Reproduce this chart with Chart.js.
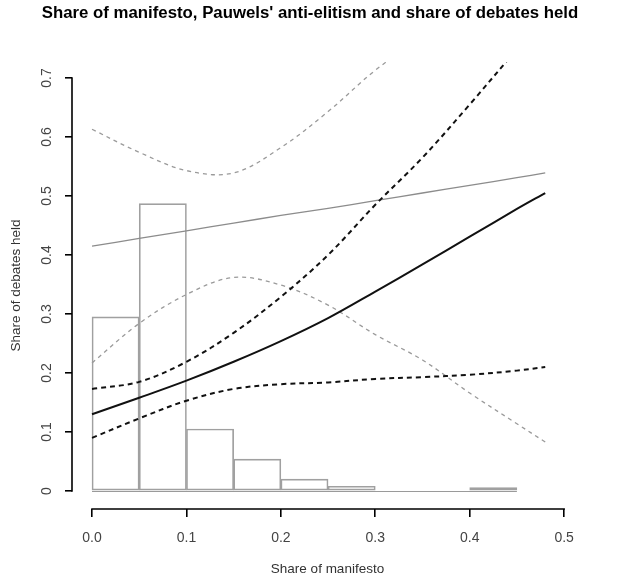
<!DOCTYPE html>
<html><head><meta charset="utf-8">
<script src="https://cdn.jsdelivr.net/npm/chart.js@4/dist/chart.umd.min.js"></script>
<style>html,body{margin:0;padding:0;background:#fff}</style>
</head><body>
<canvas id="c" width="620" height="585"></canvas>
<script>
const titleText = "Share of manifesto, Pauwels' anti-elitism and share of debates held";
const xTitle = "Share of manifesto";
const yTitle = "Share of debates held";
const xTicks = [0, 0.1, 0.2, 0.3, 0.4, 0.5];
const xTickLabels = ["0.0", "0.1", "0.2", "0.3", "0.4", "0.5"];
const yTicks = [0, 0.1, 0.2, 0.3, 0.4, 0.5, 0.6, 0.7];
const yTickLabels = ["0", "0.1", "0.2", "0.3", "0.4", "0.5", "0.6", "0.7"];

// histogram of share of manifesto
const histEdges = [0, 0.05, 0.1, 0.15, 0.2, 0.25, 0.3, 0.35, 0.4, 0.45];
const histValues = [0.295, 0.487, 0.105, 0.054, 0.020, 0.008, 0, 0, 0.006];

// fitted curves
const curveX = [0, 0.05, 0.1, 0.15, 0.2, 0.25, 0.3, 0.35, 0.4, 0.45, 0.48];
const blackFit   = [0.130, 0.158, 0.187, 0.219, 0.254, 0.293, 0.338, 0.384, 0.431, 0.478, 0.505];
const blackUpper = [0.173, 0.185, 0.219, 0.268, 0.329, 0.400, 0.485, 0.565, 0.655, 0.749, null];
const blackLower = [0.090, 0.123, 0.153, 0.173, 0.181, 0.184, 0.190, 0.193, 0.197, 0.204, 0.210];
const grayFit    = [0.415, 0.428, 0.441, 0.454, 0.467, 0.479, 0.492, 0.505, 0.518, 0.531, 0.539];
const grayUpper  = [0.613, 0.574, 0.543, 0.539, 0.582, 0.643, 0.713, 0.770, null, null, null];
const grayLower  = [0.217, 0.284, 0.333, 0.362, 0.349, 0.315, 0.265, 0.222, 0.166, 0.114, 0.083];

const FONT = "'Liberation Sans', Arial, sans-serif";
const pts = arr => curveX.map((x, i) => ({x: x, y: arr[i]}));
const histPts = histValues.map((v, i) => ({x: (histEdges[i] + histEdges[i + 1]) / 2, y: v}));

function lineDs(arr, color, width, dash) {
  return {
    type: 'line', data: pts(arr), borderColor: color, borderWidth: width,
    borderDash: dash, pointRadius: 0, fill: false, tension: 0.35, spanGaps: false
  };
}

const axisPlugin = {
  id: 'axisPlugin',
  beforeDatasetsDraw(chart) {
    const {ctx, scales: {x, y}} = chart;
    ctx.save();
    ctx.strokeStyle = '#9a9a9a';
    ctx.lineWidth = 1;
    const y0 = Math.round(y.getPixelForValue(0)) + 0.5;
    ctx.beginPath();
    ctx.moveTo(x.getPixelForValue(histEdges[0]), y0);
    ctx.lineTo(x.getPixelForValue(histEdges[histEdges.length - 1]), y0);
    ctx.stroke();
    ctx.restore();
  },
  afterDraw(chart) {
    const {ctx, chartArea, scales: {x, y}} = chart;
    ctx.save();
    ctx.strokeStyle = '#000';
    ctx.lineWidth = 1.6;
    ctx.beginPath();
    ctx.moveTo(x.getPixelForValue(xTicks[0]) - 0.8, chartArea.bottom);
    ctx.lineTo(x.getPixelForValue(xTicks[xTicks.length - 1]) + 0.8, chartArea.bottom);
    ctx.moveTo(chartArea.left, y.getPixelForValue(yTicks[0]) + 0.8);
    ctx.lineTo(chartArea.left, y.getPixelForValue(yTicks[yTicks.length - 1]) - 0.8);
    ctx.stroke();
    ctx.restore();
  }
};

new Chart(document.getElementById('c'), {
  type: 'line',
  data: {
    datasets: [
      lineDs(blackFit, '#111', 2, []),
      lineDs(blackUpper, '#111', 2, [5, 4]),
      lineDs(blackLower, '#111', 2, [5, 4]),
      lineDs(grayFit, '#8c8c8c', 1.3, []),
      lineDs(grayUpper, '#9a9a9a', 1.3, [4, 4]),
      lineDs(grayLower, '#9a9a9a', 1.3, [4, 4]),
      {
        type: 'bar', data: histPts, backgroundColor: 'rgba(0,0,0,0)',
        borderColor: '#a0a0a0', borderWidth: 1, borderSkipped: false,
        barPercentage: 1, categoryPercentage: 1
      }
    ]
  },
  options: {
    responsive: false,
    animation: false,
    events: [],
    layout: {padding: {left: 0, right: 0, top: 0, bottom: 0}},
    plugins: {
      legend: {display: false},
      tooltip: {enabled: false},
      title: {
        display: true, text: titleText, color: '#000',
        font: {family: FONT, size: 16.8, weight: 'bold'},
        padding: {top: 3, bottom: 38.8}
      }
    },
    scales: {
      x: {
        type: 'linear', min: -0.0212, max: 0.52, offset: false,
        afterBuildTicks: s => { s.ticks = xTicks.map(v => ({value: v})); },
        afterFit: s => { s.height = 76; },
        ticks: {
          callback: (v, i) => xTickLabels[i], color: '#444',
          font: {family: FONT, size: 14}, padding: 13, maxRotation: 0, autoSkip: false
        },
        grid: {display: true, drawOnChartArea: false, drawTicks: true, tickLength: 8, color: '#000', lineWidth: 1.6, offset: false},
        border: {display: false},
        title: {display: true, text: xTitle, color: '#333', font: {family: FONT, size: 13.5}, padding: {top: 8, bottom: 7.8}}
      },
      y: {
        type: 'linear', min: -0.0305, max: 0.7271,
        afterBuildTicks: s => { s.ticks = yTicks.map(v => ({value: v})); },
        afterFit: s => { s.width = 72; },
        ticks: {
          callback: (v, i) => yTickLabels[i], color: '#444',
          font: {family: FONT, size: 14}, padding: 8, minRotation: 90, maxRotation: 90,
          crossAlign: 'center', autoSkip: false
        },
        grid: {display: true, drawOnChartArea: false, drawTicks: true, tickLength: 7, color: '#000', lineWidth: 1.6},
        border: {display: false},
        title: {display: true, text: yTitle, color: '#333', font: {family: FONT, size: 13.5}, padding: {top: 7.8, bottom: 8}}
      },
      yRight: {
        type: 'linear', position: 'right', display: true,
        afterFit: s => { s.width = 37; },
        ticks: {display: false},
        grid: {display: false},
        border: {display: false}
      }
    }
  },
  plugins: [axisPlugin]
});
</script>
</body></html>
